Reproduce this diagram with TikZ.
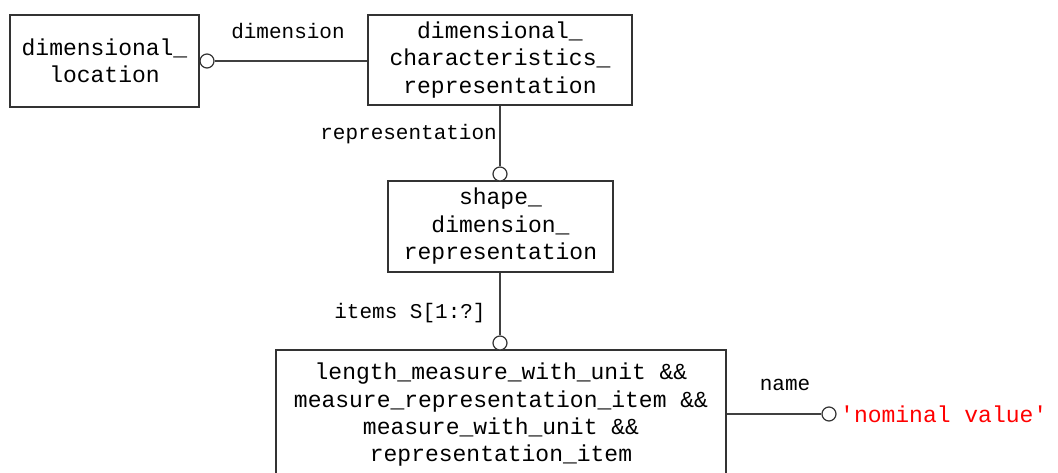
\documentclass[tikz,border=0pt]{standalone}
\usepackage{fontspec}
\setmainfont{Liberation Mono}
\setmonofont{Liberation Mono}
\begin{document}
\begin{tikzpicture}[x=1pt,y=-1pt,
  ent/.style={draw=black!80, line width=1.4pt, fill=white, align=center, inner sep=0pt,
    font=\fontsize{23}{27.5}\selectfont},
  conn/.style={draw=black!75, line width=1.4pt},
  opt/.style={circle, draw=black!80, line width=1.2pt, fill=white, minimum size=14pt, inner sep=0pt},
  lbl/.style={font=\fontsize{21}{24}\selectfont, inner sep=0pt}]
\useasboundingbox (0,0) rectangle (1058,473);
\node[ent, minimum width=189pt, minimum height=92pt] (b1) at (104.5,61) {dimensional\_\\location};
\node[ent, minimum width=264pt, minimum height=90pt] (b2) at (500,60) {dimensional\_\\characteristics\_\\representation};
\node[ent, minimum width=225pt, minimum height=91pt] (b3) at (500.5,226.5) {shape\_\\dimension\_\\representation};
\node[ent, minimum width=450pt, minimum height=140pt] (b4) at (501,420) {};
\node[align=center, inner sep=0pt, font=\fontsize{23}{27.3}\selectfont] (t4) at (501,415)
  {length\_measure\_with\_unit \&\&\\measure\_representation\_item \&\&\\measure\_with\_unit \&\&\\representation\_item};
% dimension
\node[opt] (c1) at (207,61) {};
\draw[conn] (c1.east) -- (b2.west |- c1);
\node[lbl] (l1) at (288,31) {dimension};
% representation
\node[opt] (c2) at (500,174) {};
\draw[conn] (b2.south -| c2) -- (c2.north);
\node[lbl, anchor=east] (l2) at (497,134) {representation};
% items
\node[opt] (c3) at (500,343) {};
\draw[conn] (b3.south -| c3) -- (c3.north);
\node[lbl] (l3) at (410,313) {items S[1:?]};
% name
\node[opt] (c4) at (829,414) {};
\draw[conn] (b4.east |- c4) -- (c4.west);
\node[lbl] (l4) at (785,385) {name};
\node[anchor=west, inner sep=0pt, text=red, font=\ttfamily\fontsize{23}{27}\selectfont] (v) at (840,414) {'nominal value'};
\end{tikzpicture}
\end{document}
